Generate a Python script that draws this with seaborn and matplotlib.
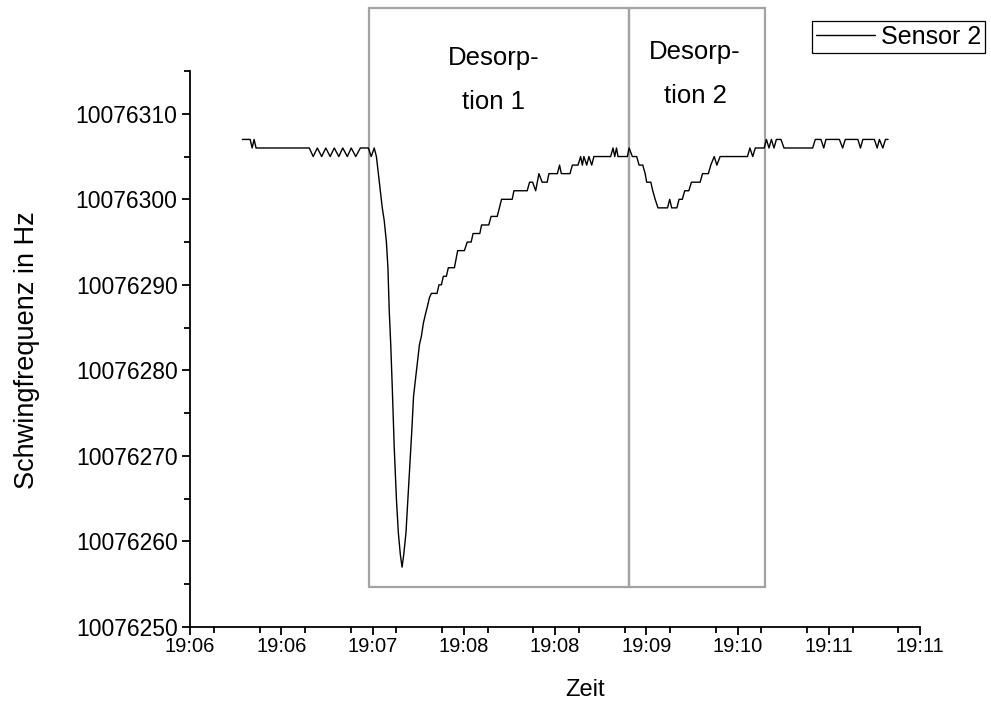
import numpy as np
import pandas as pd
import seaborn as sns
import matplotlib
matplotlib.use("Agg")
import matplotlib.pyplot as plt
from matplotlib.patches import Rectangle
from matplotlib.lines import Line2D
import matplotlib.ticker as mticker

# ---------------- data ----------------
# time in seconds after 19:06:00
time_s = [
    34.1, 37.7, 38.6, 39.5, 40.4, 64.9,
    66.7, 68.6, 70.6, 72.5, 74.5, 76.4, 78.5, 80.3, 82.4, 84.2, 86.3, 88.4,
    92.1, 93.4, 94.8, 95.8, 96.7, 97.6, 98.5, 99.4, 100.4, 101.1, 101.7, 102.4,
    103.1, 104.0, 105.0, 105.9, 106.8, 107.6, 108.4, 109.4, 110.3, 111.2,
    112.1, 112.9, 114.0, 114.7, 115.6, 116.5, 117.4, 118.3, 119.3, 120.2,
    121.1, 123.7, 124.6, 125.7, 126.6, 128.0, 128.9, 131.7, 133.2, 136.3,
    137.6, 139.4, 140.3, 143.4, 144.2, 147.5, 148.6, 151.4, 153.4, 158.3,
    159.1, 165.2, 166.3, 167.7, 169.1, 170.6, 172.1, 174.4, 175.2, 179.1,
    180.1, 180.9, 184.9, 186.0, 188.6, 189.8, 190.6, 191.3, 192.6, 193.6,
    194.9, 195.9, 203.6, 204.7, 205.5, 206.3, 207.0, 211.3, 212.1, 213.6,
    215.6, 216.7, 218.4, 219.5, 220.2, 222.1, 223.0, 224.1, 225.4, 229.8,
    230.8, 231.7, 234.1, 235.1, 236.6, 237.7, 239.6, 240.8, 244.8, 245.9,
    248.6, 249.7, 251.3, 252.5, 254.0, 266.6, 267.7, 269.0, 270.2, 274.3,
    275.3, 276.5, 277.6, 278.8, 279.9, 282.0, 283.4, 296.6, 297.8, 300.4,
    301.7, 302.7, 308.9, 310.4, 311.6, 317.4, 318.6, 319.7, 325.0, 326.3,
    327.3, 328.9, 330.1, 331.3,
]
freq_hz = [
    10076307, 10076307, 10076306, 10076307, 10076306, 10076306,
    10076305, 10076306, 10076305, 10076306, 10076305, 10076306, 10076305, 10076306, 10076305, 10076306, 10076305, 10076306,
    10076306, 10076305, 10076306, 10076305, 10076303, 10076301, 10076299, 10076297.5, 10076295, 10076292, 10076287, 10076283,
    10076278, 10076271, 10076265, 10076261, 10076258.5, 10076257, 10076258.5, 10076261, 10076265, 10076269,
    10076273, 10076277, 10076279.5, 10076281, 10076283, 10076284, 10076285.5, 10076286.5, 10076287.5, 10076288.5,
    10076289, 10076289, 10076290, 10076290, 10076291, 10076291, 10076292, 10076292, 10076294, 10076294,
    10076295, 10076295, 10076296, 10076296, 10076297, 10076297, 10076298, 10076298, 10076300, 10076300,
    10076301, 10076301, 10076302, 10076302, 10076301, 10076303, 10076302, 10076302, 10076303, 10076303,
    10076304, 10076303, 10076303, 10076304, 10076304, 10076305, 10076304, 10076305, 10076304, 10076305,
    10076304, 10076305, 10076305, 10076306, 10076305, 10076306, 10076305, 10076305, 10076306, 10076305,
    10076305, 10076304, 10076304, 10076303, 10076302, 10076302, 10076301, 10076300, 10076299, 10076299,
    10076300, 10076299, 10076299, 10076300, 10076300, 10076301, 10076301, 10076302, 10076302, 10076303,
    10076303, 10076304, 10076305, 10076304, 10076305, 10076305, 10076306, 10076305, 10076306, 10076306,
    10076307, 10076306, 10076307, 10076306, 10076307, 10076307, 10076306, 10076306, 10076307, 10076307,
    10076306, 10076307, 10076307, 10076306, 10076307, 10076307, 10076306, 10076307, 10076307, 10076306,
    10076307, 10076306, 10076307, 10076307,
]
assert len(time_s) == len(freq_hz)

# desorption phase boundaries (seconds after 19:06:00) and box vertical extent (Hz)
phase_bounds = [92.2, 212.1, 274.8]
phase_names = ["Desorp-\ntion 1", "Desorp-\ntion 2"]
box_bottom_hz = 10076254.7
box_top_hz = 10076322.4

x_tick_pos = [10, 52, 94, 136, 178, 220, 262, 304, 346]
x_tick_labels = ["19:06", "19:06", "19:07", "19:08", "19:08", "19:09", "19:10", "19:11", "19:11"]
y_ticks = [10076250, 10076260, 10076270, 10076280, 10076290, 10076300, 10076310]

df = pd.DataFrame({"Zeit": time_s, "Frequenz": freq_hz})

# ---------------- style ----------------
sns.set_theme(style="white")
plt.rcParams["font.family"] = ["Liberation Sans", "DejaVu Sans"]
plt.rcParams["text.color"] = "black"
plt.rcParams["axes.labelcolor"] = "black"

fig = plt.figure(figsize=(9.91, 7.06), dpi=100)
ax = fig.add_axes([190 / 991, 1 - 627 / 706, (920 - 190) / 991, (627 - 71) / 706])

sns.lineplot(data=df, x="Zeit", y="Frequenz", ax=ax, color="black", lw=1.0,
             estimator=None, sort=False, legend=False)

ax.set_xlim(x_tick_pos[0], x_tick_pos[-1])
ax.set_ylim(10076250, 10076315)

ax.set_xticks(x_tick_pos)
ax.set_xticklabels(x_tick_labels)
ax.xaxis.set_minor_locator(mticker.MultipleLocator(21))
ax.set_yticks(y_ticks)
ax.yaxis.set_major_formatter(mticker.FuncFormatter(lambda v, p: f"{int(round(v))}"))
ax.yaxis.set_minor_locator(mticker.MultipleLocator(5))

for s in ["top", "right"]:
    ax.spines[s].set_visible(False)
for s in ["left", "bottom"]:
    ax.spines[s].set_color("black")
    ax.spines[s].set_linewidth(1.3)

ax.tick_params(axis="both", which="major", direction="out", length=6, width=1.3,
               color="black", labelcolor="black", bottom=True, left=True)
ax.tick_params(axis="both", which="minor", direction="out", length=4, width=1.3,
               color="black", bottom=True, left=True)
ax.tick_params(axis="y", which="major", labelsize=16.5, pad=3)
ax.tick_params(axis="x", which="major", labelsize=14.5, pad=1)

ax.set_xlabel("Zeit", fontsize=17)
ax.xaxis.set_label_coords((585 - 190) / 730, -(690 - 627) / 556)
ax.xaxis.label.set_va("center")
ax.set_ylabel("Schwingfrequenz in Hz", fontsize=19.5)
ax.yaxis.set_label_coords(-(190 - 27) / 730, (627 - 350) / 556)
ax.yaxis.label.set_va("center")

# desorption boxes
box_color = "#a3a3a3"
for i in range(len(phase_names)):
    x0, x1 = phase_bounds[i], phase_bounds[i + 1]
    rect = Rectangle((x0, box_bottom_hz), x1 - x0, box_top_hz - box_bottom_hz,
                     fill=False, edgecolor=box_color, lw=1.6, clip_on=False, zorder=1)
    ax.add_patch(rect)

fig.text(494 / 991, 1 - 80 / 706, phase_names[0], ha="center", va="center",
         fontsize=18.5, linespacing=2.05, color="black")
fig.text(695 / 991, 1 - 74 / 706, phase_names[1], ha="center", va="center",
         fontsize=18.5, linespacing=2.1, color="black")

# legend
handle = Line2D([], [], color="black", lw=1.0)
leg = fig.legend([handle], ["Sensor 2"], loc="upper left",
                 bbox_to_anchor=(812 / 991, 1 - 21 / 706), frameon=True,
                 fancybox=False, edgecolor="black", framealpha=1, fontsize=18,
                 borderpad=0.15, handlelength=2.35, handletextpad=0.25,
                 borderaxespad=0)
leg.get_frame().set_linewidth(0.9)

fig.savefig("out.png", dpi=100)
